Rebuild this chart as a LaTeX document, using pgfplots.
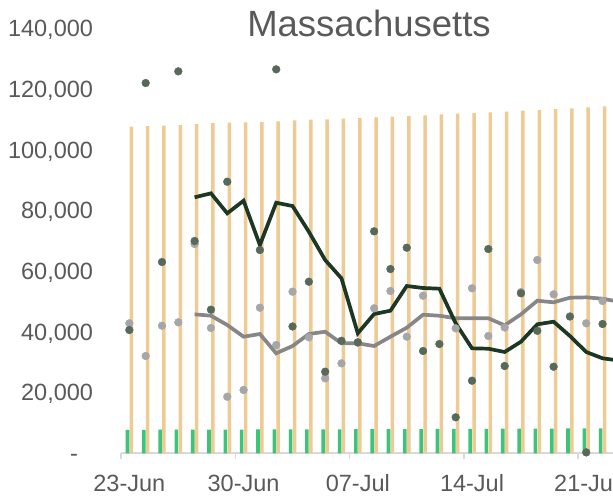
\documentclass[border=0pt]{standalone}
\usepackage{pgfplots}
\pgfplotsset{compat=1.18}
\usepackage{fontspec}
\setmainfont{Liberation Sans}
\definecolor{barTan}{HTML}{EECA94}
\definecolor{barGreen}{HTML}{3DC47A}
\definecolor{dotDark}{HTML}{56695A}
\definecolor{dotGrey}{HTML}{A6A6A6}
\definecolor{lineDark}{HTML}{1C3824}
\definecolor{lineGrey}{HTML}{878787}
\definecolor{txtGrey}{HTML}{595959}
\definecolor{axGrey}{HTML}{D9D9D9}
\begin{document}
\begin{tikzpicture}
\begin{axis}[
  scale only axis, width=491.8pt, height=425pt,
  xmin=-0.5, xmax=29.64, ymin=0, ymax=140000,
  clip=false,
  axis lines*=left,
  y axis line style={draw=none},
  x axis line style={draw=axGrey, line width=1.6pt},
  ytick={0,20000,40000,60000,80000,100000,120000,140000},
  yticklabels={{-\hspace*{15pt}},{20,000},{40,000},{60,000},{80,000},{100,000},{120,000},{140,000}},
  scaled y ticks=false,
  ytick style={draw=none},
  xtick={0,7,14,21,28},
  xticklabels={23-Jun,30-Jun,07-Jul,14-Jul,21-Jul},
  minor xtick={-0.5,6.5,13.5,20.5,27.5},
  major tick length=0pt, minor tick length=6pt,
  tick align=outside,
  minor tick style={draw=axGrey, line width=1.6pt},
  ticklabel style={text=txtGrey, font=\fontsize{23.5}{28}\selectfont},
  yticklabel style={anchor=base east, inner sep=0pt, xshift=-28pt, yshift=-8.35pt},
  xticklabel style={anchor=base, inner sep=0pt, yshift=-38.4pt},
]
% tan bars
\addplot[ybar, bar width=3.5pt, bar shift=2pt, fill=barTan, draw=none] coordinates {
(0,107575)(1,107800)(2,107900)(3,108140)(4,108470)(5,108800)(6,108900)(7,109030)(8,109120)(9,109360)
(10,109680)(11,109880)(12,110010)(13,110210)(14,110440)(15,110670)(16,110870)(17,111100)(18,111330)(19,111660)
(20,111860)(21,112090)(22,112320)(23,112520)(24,112850)(25,113080)(26,113400)(27,113640)(28,113970)(29,114300)};
% green bars
\addplot[ybar, bar width=3.6pt, bar shift=-1.9pt, fill=barGreen, draw=none] coordinates {
(0,7750)(1,7750)(2,7780)(3,7780)(4,7800)(5,7800)(6,7820)(7,7820)(8,7850)(9,7850)
(10,7880)(11,7900)(12,7900)(13,7920)(14,7950)(15,7950)(16,7980)(17,8000)(18,8000)(19,8020)
(20,8050)(21,8050)(22,8080)(23,8100)(24,8120)(25,8150)(26,8150)(27,8180)(28,8200)(29,8250)};
% grey dots
\addplot[only marks, mark=*, mark size=3.9pt, color=dotGrey] coordinates {
(0,42820)(1,32050)(2,42030)(3,43150)(4,68940)(5,41270)(6,18640)(7,20850)(8,47960)(9,35670)
(10,53230)(11,38210)(12,24700)(13,29640)(14,36430)(15,47760)(16,53460)(17,38410)(18,51910)
(20,41170)(21,54350)(22,38640)(23,41440)(24,53130)(25,63670)(26,52370)(28,42820)(29,50160)};
% dark dots
\addplot[only marks, mark=*, mark size=3.9pt, color=dotDark] coordinates {
(0,40610)(1,121970)(2,63010)(3,125820)(4,69930)(5,47300)(6,89460)(8,66960)(9,126480)
(10,41770)(11,56520)(12,26880)(13,37060)(14,36560)(15,73120)(16,60700)(17,67720)(18,33700)(19,36000)
(20,11860)(21,23910)(22,67290)(23,28750)(24,52700)(25,40350)(26,28520)(27,45060)(28,300)(29,42590)};
% grey line
\addplot[lineGrey, line width=3.7pt, mark=none] coordinates {
(4,45780)(5,45320)(6,42260)(7,38410)(8,39300)(9,32940)(10,35340)(11,39300)(12,40050)(13,36230)
(14,36230)(15,35340)(16,38410)(17,41370)(18,45650)(19,45320)(20,44470)(21,44470)(22,44470)(23,42160)
(24,45780)(25,50260)(26,49740)(27,51250)(28,51380)(29,50920)(30,49930)};
% dark line
\addplot[lineDark, line width=3.7pt, mark=none] coordinates {
(4,84320)(5,85640)(6,79050)(7,83200)(8,68610)(9,82540)(10,81460)(11,72990)(12,63670)(13,57640)
(14,39530)(15,45880)(16,46970)(17,55110)(18,54450)(19,54220)(20,42820)(21,34580)(22,34450)(23,33370)
(24,36760)(25,42490)(26,43350)(27,38640)(28,33370)(29,31290)(30,30570)};
\end{axis}
\node[anchor=base, text=txtGrey, font=\fontsize{36.5}{40}\selectfont, inner sep=0pt] at (247.8pt,416.6pt) {Massachusetts};
\pgfresetboundingbox
\useasboundingbox (-121.2pt,-43.7pt) rectangle (491.8pt,453.3pt);
\end{tikzpicture}
\end{document}
